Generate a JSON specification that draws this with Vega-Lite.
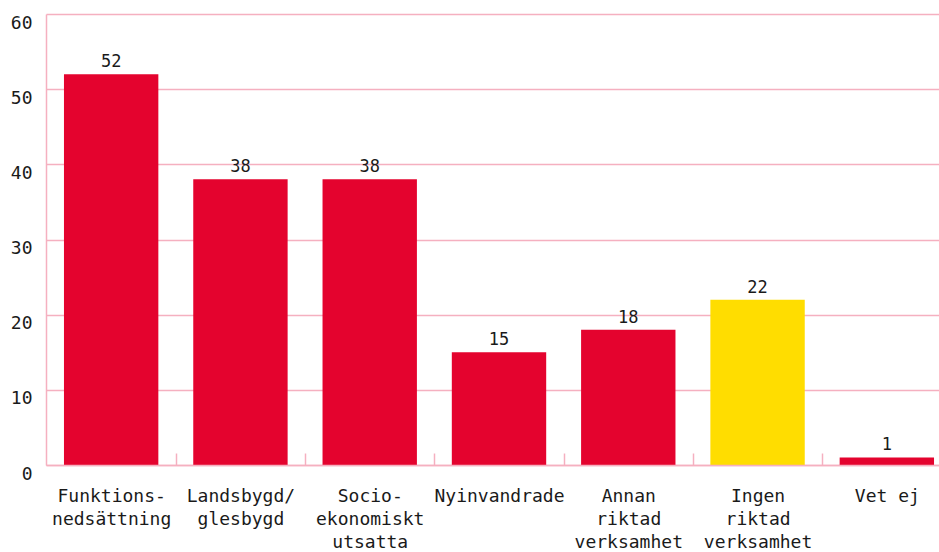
{
  "$schema": "https://vega.github.io/schema/vega-lite/v6.json",
  "width": 906,
  "height": 451,
  "autosize": "none",
  "padding": {"left": 46, "top": 14, "right": 0, "bottom": 87},
  "background": "white",
  "config": {
    "view": {"stroke": null},
    "font": "DejaVu Sans Mono"
  },
  "data": {
    "values": [
      {"kategori": "Funktions-|nedsättning", "antal": 52, "typ": "Riktad"},
      {"kategori": "Landsbygd/|glesbygd", "antal": 38, "typ": "Riktad"},
      {"kategori": "Socio-|ekonomiskt|utsatta", "antal": 38, "typ": "Riktad"},
      {"kategori": "Nyinvandrade", "antal": 15, "typ": "Riktad"},
      {"kategori": "Annan|riktad|verksamhet", "antal": 18, "typ": "Riktad"},
      {"kategori": "Ingen|riktad|verksamhet", "antal": 22, "typ": "Ingen"},
      {"kategori": "Vet ej", "antal": 1, "typ": "Riktad"}
    ]
  },
  "encoding": {
    "x": {
      "field": "kategori",
      "type": "nominal",
      "sort": null,
      "scale": {"paddingInner": 0.27, "paddingOuter": 0.139},
      "axis": {
        "title": null,
        "labelAngle": 0,
        "labelExpr": "split(datum.label, '|')",
        "labelFont": "DejaVu Sans Mono",
        "labelFontSize": 18,
        "labelLineHeight": 23,
        "labelColor": "#1a1a1a",
        "labelBaseline": "top",
        "labelPadding": 34,
        "labelOffset": -64.65,
        "domainColor": "#F5B0C0",
        "domainWidth": 1.5,
        "tickColor": "#F5B0C0",
        "tickWidth": 1.5,
        "tickSize": -12,
        "tickOffset": 64.65,
        "grid": false,
        "zindex": 1
      }
    },
    "y": {
      "field": "antal",
      "type": "quantitative",
      "scale": {"domain": [0, 60]},
      "axis": {
        "title": null,
        "values": [0, 10, 20, 30, 40, 50, 60],
        "labelFont": "DejaVu Sans Mono",
        "labelFontSize": 18,
        "labelColor": "#1a1a1a",
        "labelBaseline": "top",
        "labelPadding": 14,
        "ticks": false,
        "domainColor": "#F5B0C0",
        "domainWidth": 1.5,
        "gridColor": "#F5B0C0",
        "gridWidth": 1.5,
        "grid": true
      }
    }
  },
  "layer": [
    {
      "mark": {"type": "bar"},
      "encoding": {
        "color": {
          "field": "typ",
          "type": "nominal",
          "scale": {"domain": ["Riktad", "Ingen"], "range": ["#E4032E", "#FFDD00"]},
          "legend": null
        }
      }
    },
    {
      "mark": {"type": "text", "dy": -7, "baseline": "alphabetic", "fontSize": 17, "font": "DejaVu Sans Mono", "color": "#1a1a1a"},
      "encoding": {
        "text": {"field": "antal", "type": "quantitative"}
      }
    }
  ]
}
